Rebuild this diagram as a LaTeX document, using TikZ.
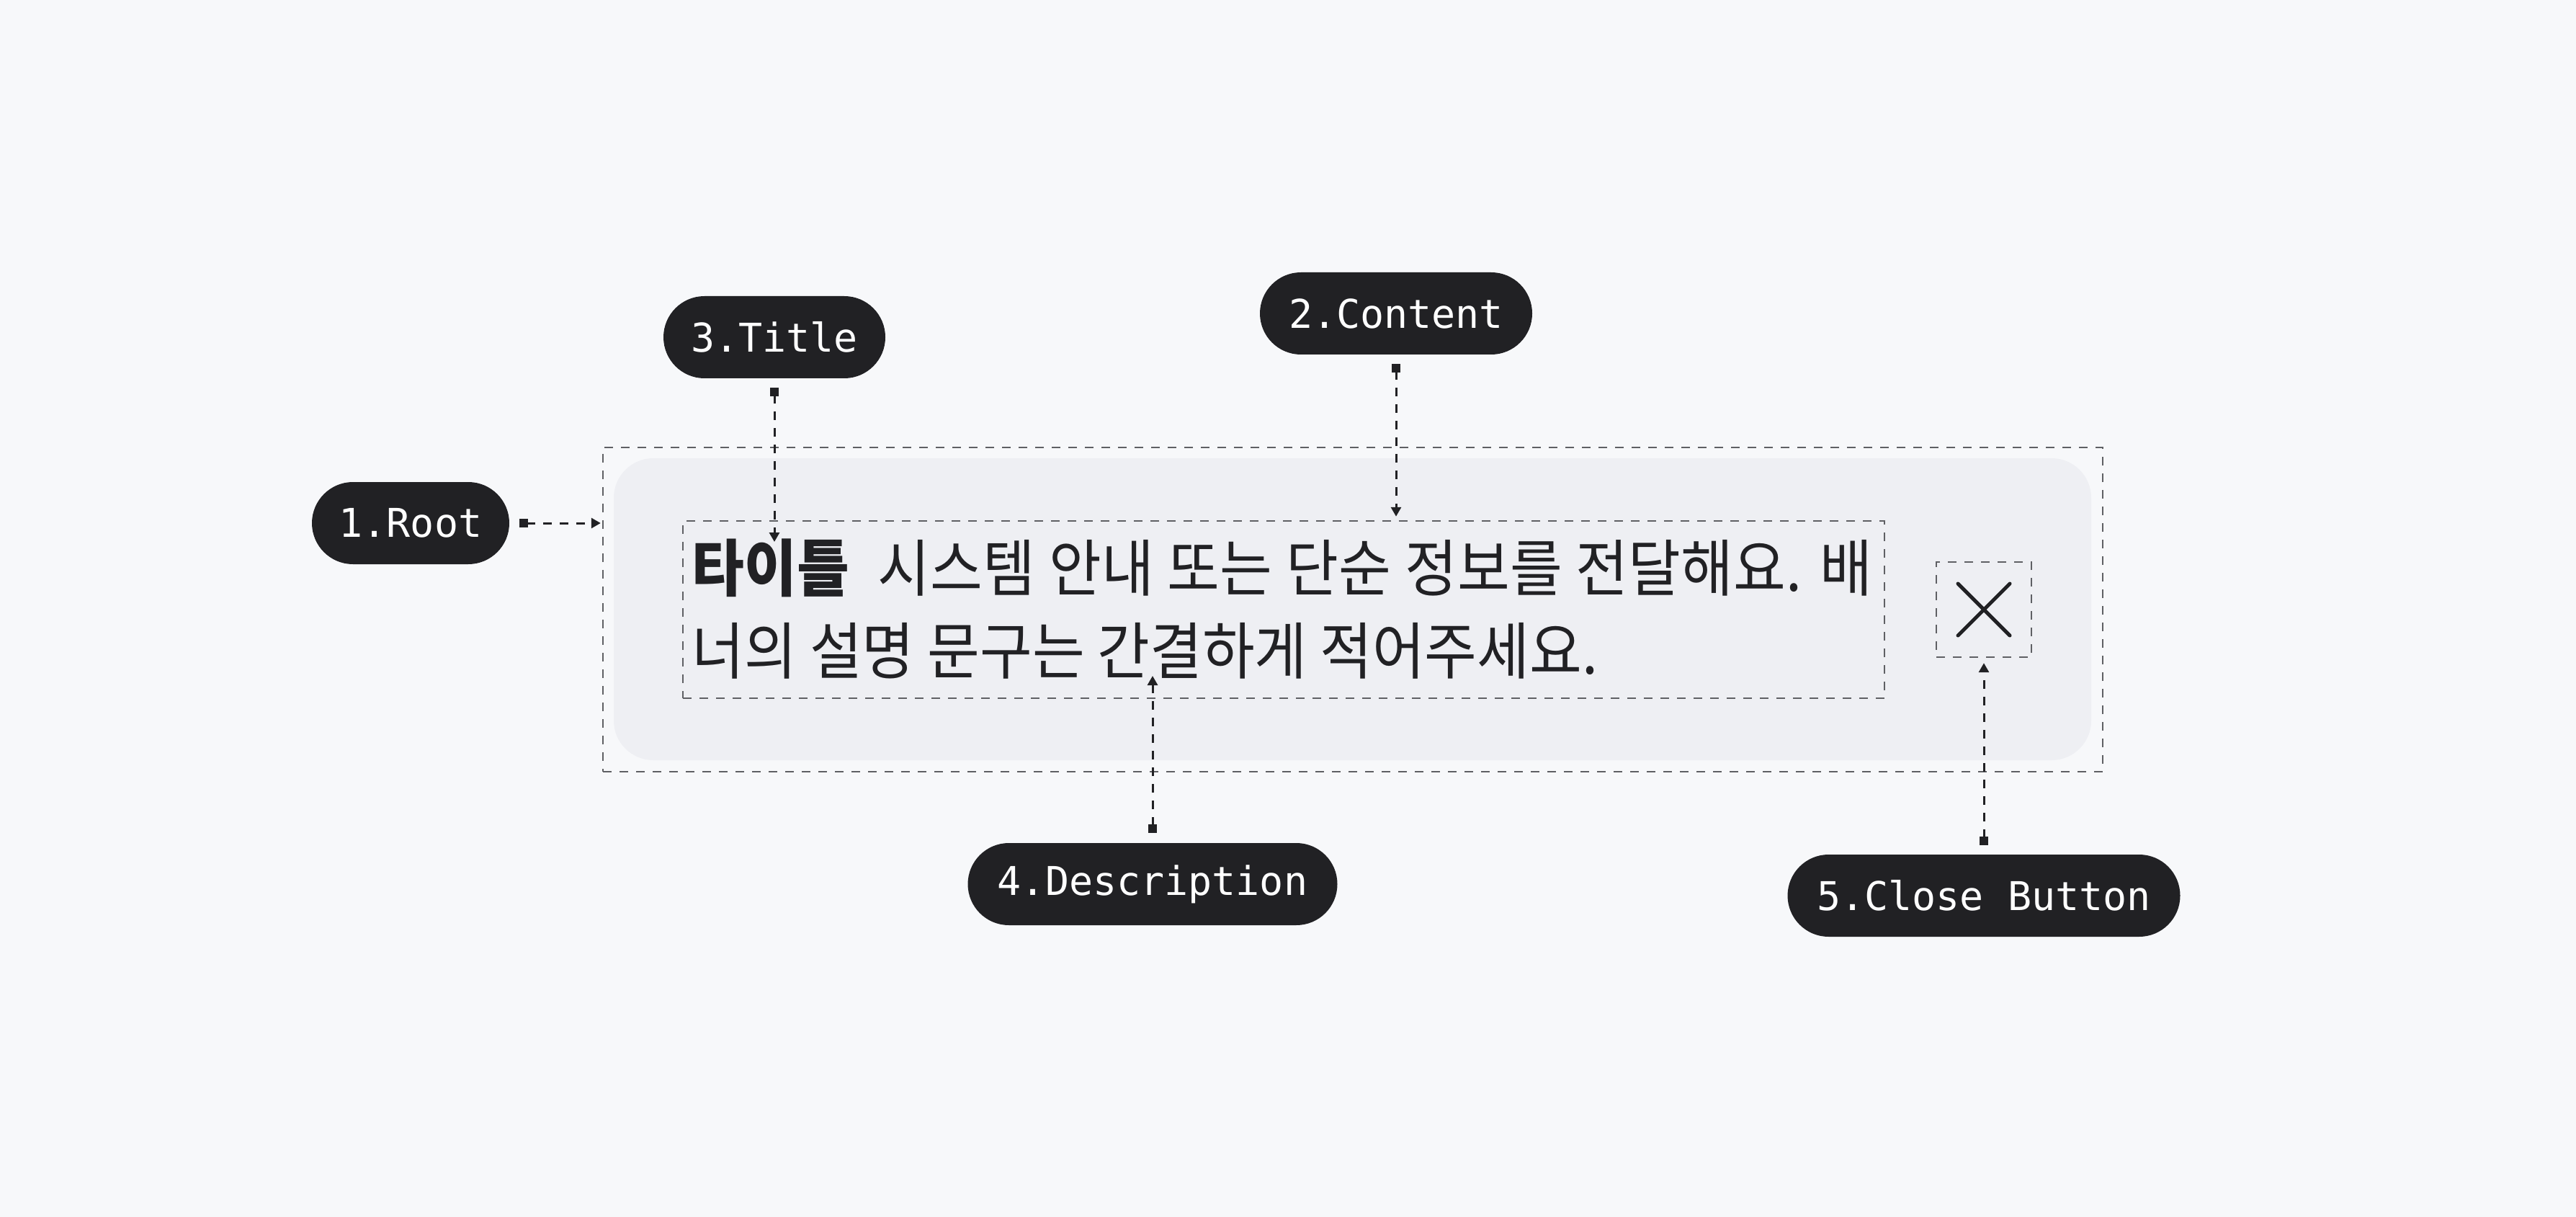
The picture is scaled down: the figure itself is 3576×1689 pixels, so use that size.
\documentclass[tikz,border=0pt]{standalone}
\usepackage{fontspec}
\newfontfamily\kr{Noto Sans CJK KR}[FakeStretch=0.92]
\newfontfamily\pillfont{DejaVu Sans Mono}
\usetikzlibrary{arrows.meta}
\definecolor{bgc}{HTML}{F7F8FA}
\definecolor{cardc}{HTML}{EEEFF3}
\definecolor{pillc}{HTML}{212124}
\definecolor{dashc}{HTML}{5F6064}
\definecolor{textc}{HTML}{212124}
\begin{document}
\begin{tikzpicture}[x=0.25pt,y=-0.25pt,
  pill/.style={fill=pillc, text=white, rounded corners=14.25pt, minimum height=28.5pt,
    inner sep=0pt, font=\pillfont\fontsize{13.75pt}{16pt}\selectfont},
  dashbox/.style={draw=dashc, line width=0.6pt, dash pattern=on 3pt off 2.75pt, inner sep=0pt},
  conn/.style={draw=pillc, line width=0.75pt, dash pattern=on 3pt off 2.75pt,
    {Square[length=3pt,width=3pt]}-{Triangle[length=3.25pt,width=3.5pt]}},
  kortext/.style={anchor=base west, inner sep=0pt, text=textc, font=\kr\fontsize{21.5pt}{26pt}\selectfont}
]
\fill[bgc] (0,0) rectangle (3576,1689);
\useasboundingbox (0,0) rectangle (3576,1689);

% card
\node[fill=cardc, rounded corners=13.75pt, minimum width=512.75pt, minimum height=104.75pt, inner sep=0pt] (card) at (1877.5,845.5) {};
\node[dashbox, minimum width=520.5pt, minimum height=112.5pt] (root) at (1878,846) {};
\node[dashbox, minimum width=417pt, minimum height=61.5pt] (content) at (1782,846) {};
\node[dashbox, minimum width=33pt, minimum height=33pt] (closebox) at (2754,846) {};
\draw[pillc, line width=1.25pt, line cap=round] (2718,810) -- (2790,882) (2790,810) -- (2718,882);

% texts
\node[kortext] (ttltext) at (960,820) {\bfseries 타이틀};
\node[kortext] (line1) at (1218,820) {\spaceskip=1.08\fontdimen2\font plus 0pt minus 0pt 시스템 안내 또는 단순 정보를 전달해요. 배};
\node[kortext] (line2) at (960,935) {너의 설명 문구는 간결하게 적어주세요.};
\coordinate (descpt) at (1600,938);

% pills
\node[pill, minimum width=68.5pt] (p1) at (570,726) {1.Root};
\node[pill, minimum width=94.5pt] (p2) at (1938,435) {2.Content};
\node[pill, minimum width=77pt] (p3) at (1075,468) {3.Title};
\node[pill, minimum width=128.25pt] (p4) at (1600,1227) {4.Description};
\node[pill, minimum width=136.25pt] (p5) at (2754,1243) {5.Close Button};

% connectors
\draw[conn, shorten <=3.25pt, shorten >=0.5pt] (p1.east) -- (p1.east -| root.west);
\draw[conn, shorten <=3pt, shorten >=1.25pt] (p2.south) -- (p2.south |- content.north);
\draw[conn, shorten <=3pt] (p3.south) -- (1075,752);
\draw[conn, shorten <=3.25pt] (p4.north) -- (descpt);
\draw[conn, shorten <=3pt, shorten >=1.75pt] (p5.north) -- (closebox.south);
\end{tikzpicture}
\end{document}
